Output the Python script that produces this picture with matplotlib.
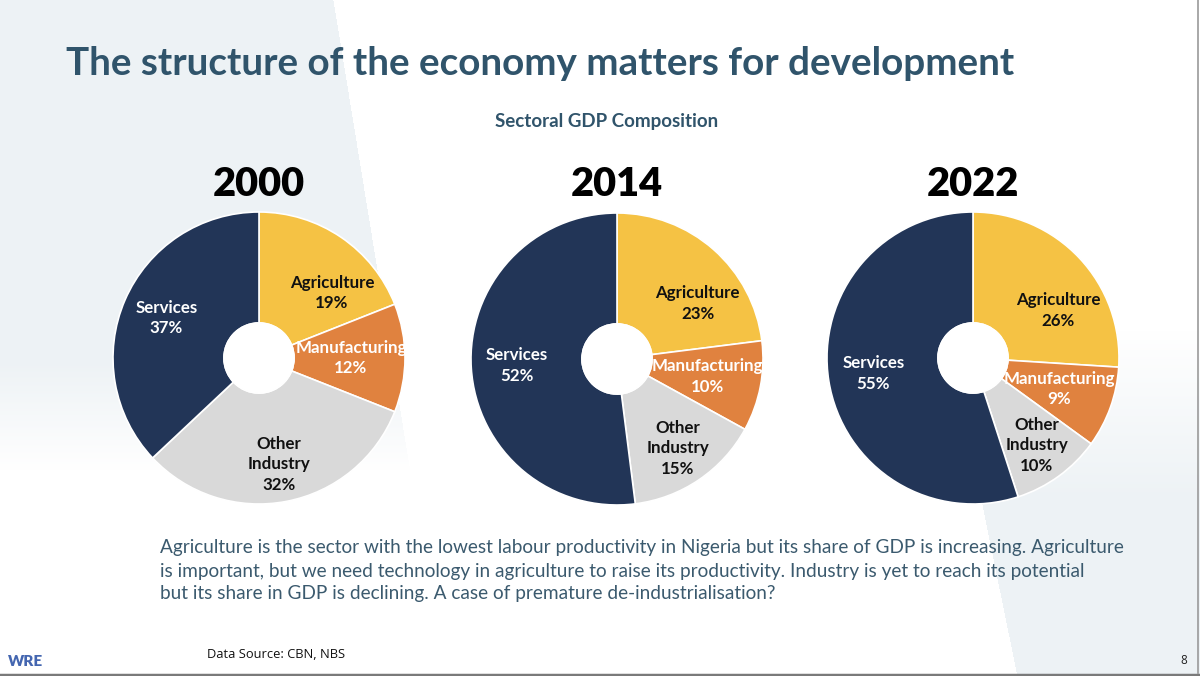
import matplotlib
matplotlib.use("Agg")
import matplotlib.pyplot as plt
import numpy as np
from matplotlib.patches import Circle

# ---------------- data ----------------
sectors = ["Agriculture", "Manufacturing", "Other\nIndustry", "Services"]
years = ["2000", "2014", "2022"]
shares_2000 = [19, 12, 32, 37]
shares_2014 = [23, 10, 15, 52]
shares_2022 = [26, 9, 10, 55]
all_shares = [shares_2000, shares_2014, shares_2022]

title = "The structure of the economy matters for development"
subtitle = "Sectoral GDP Composition"
body_lines = [
    "Agriculture is the sector with the lowest labour productivity in Nigeria but its share of GDP is increasing. Agriculture",
    "is important, but we need technology in agriculture to raise its productivity. Industry is yet to reach its potential",
    "but its share in GDP is declining. A case of premature de-industrialisation?",
]
source = "Data Source: CBN, NBS"
page_no = "8"
logo = "WRE"

# ---------------- style ----------------
W, H = 1200, 676
colors = ["#F5C244", "#E0823F", "#D9D9D9", "#223557"]
label_colors = ["#111111", "white", "#111111", "white"]
label_radius = [0.67, 0.63, 0.74, 0.69]
label_angle_shift = [-14, 0, 0, 0]
TITLE_C = "#30546B"
BODY_C = "#3B5A6E"
BG_RGB = np.array([0.933, 0.950, 0.963])
FONT = ["Lato", "DejaVu Sans"]

fig = plt.figure(figsize=(12, 6.76), dpi=100)
fig.patch.set_facecolor("white")
bg = fig.add_axes([0, 0, 1, 1])
bg.set_xlim(0, W)
bg.set_ylim(H, 0)
bg.axis("off")

# soft background shapes (gradient)
yy, xx = np.mgrid[0:H, 0:W].astype(float)
left_mask = xx < 333 + yy * (62 / 380)
left_alpha = np.clip((470 - yy) / 110, 0, 1) * left_mask
right_mask = xx > 982 + (yy - 505) * (35 / 171)
right_alpha = np.clip((yy - 330) / 170, 0, 1) * right_mask
alpha = np.maximum(left_alpha, right_alpha)
img = np.ones((H, W, 4))
img[..., :3] = BG_RGB
img[..., 3] = alpha
bg.imshow(img, extent=(0, W, H, 0), zorder=0, interpolation="bilinear")
bg.set_xlim(0, W)
bg.set_ylim(H, 0)

# slide borders
bg.plot([1198, 1198], [0, 673], color="#9A9A9A", lw=1.2)
bg.plot([0, 1200], [674.5, 674.5], color="#7A7A7A", lw=2.5)

renderer = fig.canvas.get_renderer()


def fit(t, target_w):
    w = t.get_window_extent(renderer).width
    t.set_fontsize(t.get_fontsize() * target_w / w)
    return t


# title & subtitle
t = bg.text(66, 75, title, ha="left", va="baseline", fontsize=33,
            fontweight="bold", family=FONT, color=TITLE_C)
fit(t, 949)
t = bg.text(607, 122, subtitle, ha="center", va="center", fontsize=13,
            fontweight="bold", family=FONT, color=TITLE_C)
fit(t, 224)

# body text
for i, line in enumerate(body_lines):
    t = bg.text(160, 548 + 23 * i, line, ha="left", va="center", fontsize=14,
                family=FONT, color=BODY_C)
    if i == 0:
        fit(t, 967)
        body_fs = t.get_fontsize()
    else:
        t.set_fontsize(body_fs)

# footer
t = bg.text(207, 654, source, ha="left", va="center", fontsize=10,
            family=["Open Sans", "DejaVu Sans"], color="#111111")
fit(t, 138)
bg.text(1187, 661, page_no, ha="right", va="center", fontsize=8.5,
        family=["Open Sans", "DejaVu Sans"], color="#222222")
bg.text(8, 662, logo, ha="left", va="center", fontsize=11, fontweight="heavy",
        family=FONT, color="#4466B0")

# pies
centers = [(259, 358), (617, 359), (973, 358)]
R = 146
hole = 0.24

# label font size
probe = bg.text(0, -100, "Manufacturing", fontsize=13, fontweight="bold", family=FONT)
fit(probe, 99)
lab_fs = probe.get_fontsize() * 1.12
probe.remove()

year_fs = None
for (cx, cy), yr, vals in zip(centers, years, all_shares):
    ax = fig.add_axes([(cx - R) / W, (H - cy - R) / H, 2 * R / W, 2 * R / H])
    ax.set_aspect("equal")
    wedges, _ = ax.pie(vals, colors=colors, startangle=90, counterclock=False,
                       radius=1, wedgeprops=dict(width=1 - hole, edgecolor="white", linewidth=1.2))
    ax.add_patch(Circle((0, 0), hole, facecolor="white", edgecolor="white", lw=1.2, zorder=5))
    ax.set_xlim(-1, 1)
    ax.set_ylim(-1, 1)
    ax.axis("off")
    for k, w in enumerate(wedges):
        mid = (w.theta1 + w.theta2) / 2 + label_angle_shift[k]
        r = label_radius[k]
        x, y = r * np.cos(np.radians(mid)), r * np.sin(np.radians(mid))
        ax.text(x, y, f"{sectors[k]}\n{vals[k]}%", ha="center", va="center",
                fontsize=lab_fs, fontweight="bold", family=FONT,
                color=label_colors[k], linespacing=1.35, zorder=6)
    t = bg.text(cx, 185, yr, ha="center", va="center", fontsize=28,
                fontweight="heavy", family=FONT, color="black")
    if year_fs is None:
        fit(t, 92)
        year_fs = t.get_fontsize()
    else:
        t.set_fontsize(year_fs)

fig.savefig("out.png", dpi=100, facecolor="white")
